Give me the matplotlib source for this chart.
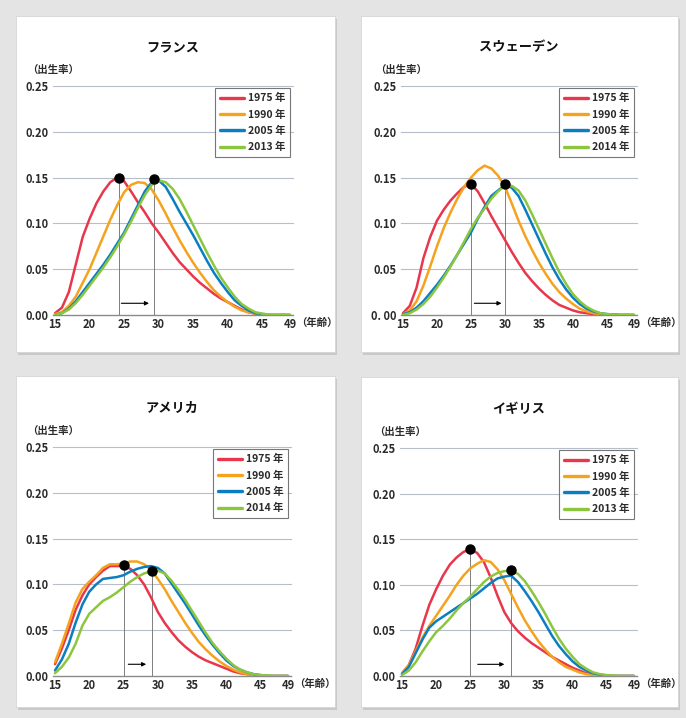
import numpy as np
import matplotlib.pyplot as plt
from matplotlib.patches import Rectangle

plt.rcParams['font.family'] = ['Noto Sans CJK JP', 'DejaVu Sans']

W, H = 686, 718

ages = np.arange(15, 50)
legend_colors = ['#e8374c', '#f5a21d', '#0b7ec2', '#8cc63f']

# France
fr_years = ['1975 年', '1990 年', '2005 年', '2013 年']
fr_1975 = [0.002, 0.008, 0.025, 0.055, 0.085, 0.105, 0.122, 0.135, 0.145, 0.150,
           0.146, 0.135, 0.123, 0.112, 0.100, 0.090, 0.079, 0.068, 0.058, 0.050,
           0.042, 0.035, 0.029, 0.023, 0.018, 0.014, 0.010, 0.006, 0.003, 0.0015,
           0.0005, 0, 0, 0, 0]
fr_1990 = [0.001, 0.003, 0.010, 0.020, 0.035, 0.050, 0.068, 0.086, 0.104, 0.120,
           0.134, 0.142, 0.145, 0.144, 0.137, 0.125, 0.111, 0.096, 0.082, 0.069,
           0.057, 0.046, 0.036, 0.027, 0.020, 0.014, 0.009, 0.005, 0.003, 0.0015,
           0.0005, 0, 0, 0, 0]
fr_2005 = [0, 0.002, 0.007, 0.015, 0.025, 0.035, 0.045, 0.055, 0.066, 0.078,
           0.090, 0.105, 0.120, 0.135, 0.145, 0.147, 0.140, 0.127, 0.113, 0.100,
           0.087, 0.073, 0.059, 0.046, 0.035, 0.025, 0.016, 0.010, 0.005, 0.002,
           0.001, 0, 0, 0, 0]
fr_2013 = [0, 0.002, 0.006, 0.013, 0.022, 0.032, 0.042, 0.052, 0.063, 0.075,
           0.088, 0.102, 0.117, 0.131, 0.142, 0.147, 0.145, 0.138, 0.127, 0.113,
           0.098, 0.083, 0.068, 0.054, 0.041, 0.030, 0.020, 0.012, 0.007, 0.003,
           0.0015, 0.0005, 0, 0, 0]
fr_peak_x = [24.2, 29.3]
fr_peak_y = [0.150, 0.148]
fr_arrow = [24.6, 28.6]

# Sweden
se_years = ['1975 年', '1990 年', '2005 年', '2014 年']
se_1975 = [0.002, 0.010, 0.030, 0.062, 0.085, 0.103, 0.115, 0.125, 0.133, 0.140,
           0.143, 0.135, 0.122, 0.108, 0.095, 0.082, 0.069, 0.057, 0.046, 0.037,
           0.029, 0.022, 0.016, 0.011, 0.008, 0.005, 0.003, 0.002, 0.001, 0.0005,
           0, 0, 0, 0, 0]
se_1990 = [0.001, 0.005, 0.015, 0.032, 0.053, 0.075, 0.095, 0.112, 0.127, 0.140,
           0.150, 0.158, 0.163, 0.160, 0.152, 0.140, 0.122, 0.103, 0.086, 0.071,
           0.057, 0.045, 0.034, 0.025, 0.018, 0.012, 0.007, 0.004, 0.002, 0.001,
           0.0005, 0, 0, 0, 0]
se_2005 = [0.001, 0.003, 0.008, 0.015, 0.024, 0.033, 0.043, 0.054, 0.066, 0.078,
           0.090, 0.105, 0.118, 0.130, 0.136, 0.142, 0.139, 0.130, 0.115, 0.099,
           0.083, 0.067, 0.052, 0.039, 0.028, 0.019, 0.012, 0.007, 0.004, 0.002,
           0.001, 0.0005, 0, 0, 0]
se_2014 = [0, 0.002, 0.006, 0.012, 0.020, 0.030, 0.041, 0.053, 0.066, 0.080,
           0.094, 0.106, 0.116, 0.127, 0.135, 0.141, 0.141, 0.136, 0.125, 0.110,
           0.094, 0.078, 0.062, 0.047, 0.034, 0.023, 0.015, 0.009, 0.005, 0.002,
           0.001, 0.0005, 0, 0, 0]
se_peak_x = [25.0, 30.0]
se_peak_y = [0.143, 0.143]
se_arrow = [25.5, 29.5]

# America
us_years = ['1975 年', '1990 年', '2005 年', '2014 年']
us_1975 = [0.013, 0.030, 0.050, 0.072, 0.088, 0.100, 0.108, 0.115, 0.120, 0.120,
           0.120, 0.117, 0.110, 0.100, 0.086, 0.070, 0.058, 0.048, 0.039, 0.032,
           0.026, 0.021, 0.017, 0.014, 0.011, 0.008, 0.005, 0.003, 0.002, 0.001,
           0.0005, 0, 0, 0, 0]
us_1990 = [0.015, 0.035, 0.057, 0.080, 0.095, 0.103, 0.110, 0.118, 0.122, 0.122,
           0.123, 0.125, 0.125, 0.122, 0.116, 0.106, 0.095, 0.082, 0.070, 0.058,
           0.047, 0.037, 0.029, 0.022, 0.016, 0.011, 0.007, 0.004, 0.002, 0.001,
           0.0005, 0, 0, 0, 0]
us_2005 = [0.006, 0.018, 0.035, 0.058, 0.078, 0.092, 0.100, 0.106, 0.107, 0.108,
           0.110, 0.114, 0.117, 0.119, 0.120, 0.118, 0.112, 0.101, 0.090, 0.079,
           0.067, 0.055, 0.044, 0.034, 0.025, 0.017, 0.011, 0.007, 0.004, 0.002,
           0.001, 0, 0, 0, 0]
us_2014 = [0.003, 0.010, 0.020, 0.035, 0.055, 0.068, 0.075, 0.082, 0.086, 0.091,
           0.097, 0.103, 0.108, 0.112, 0.114, 0.115, 0.112, 0.104, 0.094, 0.083,
           0.071, 0.059, 0.047, 0.036, 0.027, 0.019, 0.012, 0.007, 0.004, 0.002,
           0.001, 0.0005, 0, 0, 0]
us_peak_x = [25.0, 29.2]
us_peak_y = [0.121, 0.115]
us_arrow = [25.7, 28.3]

# UK
uk_years = ['1975 年', '1990 年', '2005 年', '2013 年']
uk_1975 = [0.003, 0.012, 0.030, 0.055, 0.078, 0.095, 0.110, 0.122, 0.130, 0.136,
           0.139, 0.135, 0.125, 0.108, 0.088, 0.070, 0.058, 0.049, 0.042, 0.036,
           0.031, 0.026, 0.021, 0.017, 0.013, 0.009, 0.006, 0.003, 0.002, 0.001,
           0.0005, 0, 0, 0, 0]
uk_1990 = [0.003, 0.012, 0.027, 0.042, 0.055, 0.066, 0.077, 0.088, 0.100, 0.110,
           0.118, 0.123, 0.127, 0.125, 0.117, 0.105, 0.090, 0.075, 0.061, 0.049,
           0.038, 0.029, 0.021, 0.015, 0.010, 0.007, 0.004, 0.002, 0.001, 0.0005,
           0, 0, 0, 0, 0]
uk_2005 = [0.002, 0.010, 0.025, 0.040, 0.053, 0.060, 0.065, 0.070, 0.075, 0.080,
           0.085, 0.090, 0.096, 0.102, 0.107, 0.109, 0.110, 0.103, 0.093, 0.082,
           0.070, 0.057, 0.044, 0.033, 0.024, 0.016, 0.010, 0.006, 0.003, 0.0015,
           0.0005, 0, 0, 0, 0]
uk_2013 = [0.001, 0.006, 0.015, 0.027, 0.038, 0.048, 0.055, 0.063, 0.072, 0.080,
           0.087, 0.095, 0.103, 0.109, 0.113, 0.115, 0.115, 0.112, 0.104, 0.093,
           0.081, 0.068, 0.054, 0.041, 0.030, 0.021, 0.013, 0.008, 0.004, 0.002,
           0.001, 0.0005, 0, 0, 0]
uk_peak_x = [25.0, 31.0]
uk_peak_y = [0.139, 0.116]
uk_arrow = [26.1, 30.0]

x_ticks = [15, 20, 25, 30, 35, 40, 45, 49]
y_ticks = [0, 0.05, 0.10, 0.15, 0.20, 0.25]
y_labels = ['0.00', '0.05', '0.10', '0.15', '0.20', '0.25']
y_labels_se = ['0. 00', '0.05', '0.10', '0.15', '0.20', '0.25']

panels = [
    dict(title='フランス', years=fr_years, series=[fr_1975, fr_1990, fr_2005, fr_2013],
         px=fr_peak_x, py=fr_peak_y, arrow=fr_arrow, ylab=y_labels,
         box=(16, 16, 335, 352), anchor=(55, 290, 315, 86)),
    dict(title='スウェーデン', years=se_years, series=[se_1975, se_1990, se_2005, se_2014],
         px=se_peak_x, py=se_peak_y, arrow=se_arrow, ylab=y_labels_se,
         box=(361, 16, 678, 352), anchor=(403, 634, 315, 86)),
    dict(title='アメリカ', years=us_years, series=[us_1975, us_1990, us_2005, us_2014],
         px=us_peak_x, py=us_peak_y, arrow=us_arrow, ylab=y_labels,
         box=(16, 376, 335, 707), anchor=(55, 288, 676, 447)),
    dict(title='イギリス', years=uk_years, series=[uk_1975, uk_1990, uk_2005, uk_2013],
         px=uk_peak_x, py=uk_peak_y, arrow=uk_arrow, ylab=y_labels,
         box=(361, 377, 678, 707), anchor=(402, 634, 676, 448)),
]

fig = plt.figure(figsize=(W / 100, H / 100), dpi=100, facecolor='#e4e4e4')

for p in panels:
    # white card with a soft shadow, kept under the axes
    bx0, by0, bx1, by1 = p['box']
    fig.patches.append(Rectangle((bx0 / W + 0.003, 1 - (by1 + 3) / H), (bx1 - bx0) / W, (by1 - by0) / H,
                                 transform=fig.transFigure, facecolor='#c9c9c9', edgecolor='none', zorder=-3))
    fig.patches.append(Rectangle((bx0 / W, 1 - by1 / H), (bx1 - bx0) / W, (by1 - by0) / H,
                                 transform=fig.transFigure, facecolor='white', edgecolor='#d0d0d0',
                                 lw=0.5, zorder=-2))

    x15, x49, y0, y25 = p['anchor']
    s = (x49 - x15) / 34
    left, right = x15 - 0.3 * s, x49 + 0.5 * s
    ax = fig.add_axes([left / W, 1 - y0 / H, (right - left) / W, (y0 - y25) / H])
    ax.set_zorder(2)
    ax.set_facecolor('none')
    ax.set_xlim(14.7, 49.5)
    ax.set_ylim(0, 0.25)

    for g in y_ticks[1:]:
        ax.axhline(g, color='#b8bdca', lw=0.8, zorder=1, clip_on=False)
    ax.axhline(0, color='#8a8a8a', lw=1.0, zorder=1, clip_on=False)

    lines = []
    for vals, c, lab in zip(p['series'], legend_colors, p['years']):
        ln, = ax.plot(ages, vals, color=c, lw=1.8, label=lab, zorder=3,
                      solid_joinstyle='round', solid_capstyle='round')
        lines.append(ln)

    for xx, yy in zip(p['px'], p['py']):
        ax.plot([xx, xx], [0, yy], color='#6a6a6a', lw=0.6, zorder=2)
    ax.plot(p['px'], p['py'], 'o', color='black', ms=6.5, zorder=5)

    ax.annotate('', xy=(p['arrow'][1], 0.0128), xytext=(p['arrow'][0], 0.0128),
                arrowprops=dict(arrowstyle='-|>', color='black', lw=0.8, mutation_scale=6,
                                shrinkA=0, shrinkB=0))

    for side in ['top', 'right', 'left', 'bottom']:
        ax.spines[side].set_visible(False)
    ax.set_xticks(x_ticks)
    ax.set_xticklabels([str(t) for t in x_ticks], fontweight='bold')
    ax.set_yticks(y_ticks)
    ax.set_yticklabels(p['ylab'], fontweight='bold')
    ax.tick_params(axis='both', length=0, labelsize=8, colors='#2a2a2a')
    ax.tick_params(axis='x', pad=2)
    ax.tick_params(axis='y', pad=3)

    leg = ax.legend(handles=lines, loc='upper right', bbox_to_anchor=(0.985, 0.99),
                    borderaxespad=0, frameon=True, fancybox=False,
                    prop=dict(size=7.5, weight='bold'),
                    handlelength=2.3, handletextpad=0.35, labelspacing=0.6,
                    borderpad=0.45)
    leg.get_frame().set_edgecolor('#555555')
    leg.get_frame().set_linewidth(0.8)
    for t in leg.get_texts():
        t.set_color('#2a2a2a')
    for h in leg.get_lines():
        h.set_linewidth(2.4)

    cx = (left + right) / 2
    fig.text(cx / W, 1 - (y25 - 39) / H, p['title'], ha='center', va='center',
             fontsize=9.5, fontweight='bold', color='#111111')
    fig.text((x15 - 28) / W, 1 - (y25 - 16) / H, '（出生率）', ha='left', va='center',
             fontsize=7.5, fontweight='bold', color='#2a2a2a')
    fig.text((x49 + 6) / W, 1 - (y0 + 8) / H, '（年齢）', ha='left', va='center',
             fontsize=7.5, fontweight='bold', color='#2a2a2a')

fig.savefig('out.png', dpi=100, facecolor=fig.get_facecolor())
